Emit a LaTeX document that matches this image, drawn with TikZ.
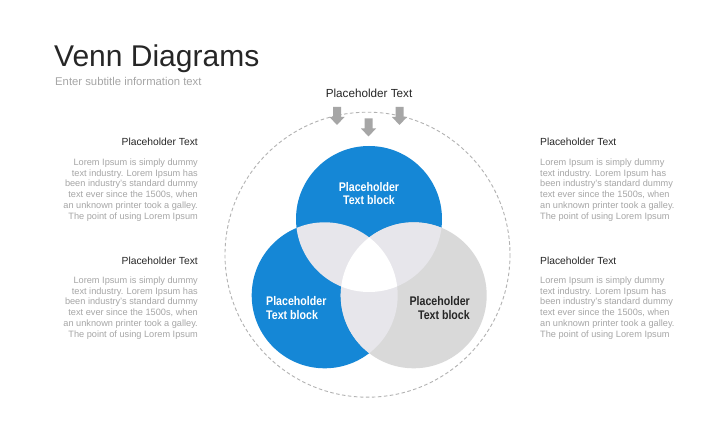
\documentclass[tikz,border=0pt]{standalone}
\usepackage{fontspec}
\setmainfont{Liberation Sans}
\newfontfamily\condfont[FakeStretch=0.85]{Liberation Sans Bold}
\definecolor{vennblue}{RGB}{21,135,214}
\definecolor{venngrey}{RGB}{217,217,217}
\definecolor{vennlight}{RGB}{231,230,235}
\definecolor{bodygrey}{RGB}{166,166,166}
\definecolor{headdark}{RGB}{38,38,38}
\definecolor{arrowgrey}{RGB}{166,166,166}
\definecolor{ringgrey}{RGB}{178,178,178}

\begin{document}
\begin{tikzpicture}[x=1pt,y=1pt,yscale=-1,
    bodytext/.style={inner sep=0pt,text=bodygrey,font=\fontsize{9.2}{10.8}\selectfont},
    headtext/.style={inner sep=0pt,text=headdark,font=\fontsize{10.3}{12}\selectfont},
    blocktext/.style={inner sep=0pt,font=\condfont\fontsize{12.5}{13.5}\selectfont},
    dropArrow/.pic={\fill[arrowgrey] (-4,0) -- (4,0) -- (4,-10) -- (7.5,-10) -- (0,-18) -- (-7.5,-10) -- (-4,-10) -- cycle;}]
    \useasboundingbox (0,0) rectangle (728,422);
    \fill[white] (0,0) rectangle (728,422);

    % Titles
    \node[anchor=base west,inner sep=0pt,text=headdark,font=\fontsize{30}{33}\selectfont] (title) at (54,67) {Venn Diagrams};
    \node[anchor=base west,inner sep=0pt,text=bodygrey,font=\fontsize{11.3}{13}\selectfont] (subtitle) at (55,86) {Enter subtitle information text};

    %Shape: Dashed ring
    \draw[ringgrey,line width=0.9pt,dash pattern=on 3.5pt off 2.5pt] (367.5,254.7) circle (142.5);

    %Shape: Circles
    \coordinate (topc) at (369,219);
    \coordinate (leftc) at (324.7,295.3);
    \coordinate (rightc) at (413.7,295.3);
    \fill[vennblue] (topc) circle (73);
    \fill[vennblue] (leftc) circle (73);
    \fill[venngrey] (rightc) circle (73);
    % overlaps
    \begin{scope}
        \clip (topc) circle (73);
        \fill[vennlight] (leftc) circle (73);
        \fill[vennlight] (rightc) circle (73);
    \end{scope}
    \begin{scope}
        \clip (leftc) circle (73);
        \fill[vennlight] (rightc) circle (73);
    \end{scope}
    \begin{scope}
        \clip (topc) circle (73);
        \clip (leftc) circle (73);
        \fill[white] (rightc) circle (73);
    \end{scope}

    % Circle texts
    \node[blocktext,text=white,align=center,anchor=north] (topblock) at (369,182) {Placeholder\\Text block};
    \node[blocktext,text=white,align=left,anchor=north west] (leftblock) at (266,296.5) {Placeholder\\Text block};
    \node[blocktext,text=headdark,align=right,anchor=north east] (rightblock) at (470,296.5) {Placeholder\\Text block};

    %Shape: Arrows
    \node[headtext,font=\fontsize{11.7}{13}\selectfont,anchor=base] (toplabel) at (369,98) {Placeholder Text};
    \pic at (337,107) {dropArrow};
    \pic at (368.5,118.5) {dropArrow};
    \pic at (399.5,107) {dropArrow};

    % Text Node: left
    \node[headtext,anchor=base east] (lhead1) at (198,146) {Placeholder Text};
    \node[bodytext,align=right,anchor=north east] (lbody1) at (198,158.5) {Lorem Ipsum is simply dummy\\text industry. Lorem Ipsum has\\been industry’s standard dummy\\text ever since the 1500s, when\\an unknown printer took a galley.\\The point of using Lorem Ipsum};
    \node[headtext,anchor=base east] (lhead2) at (198,264.5) {Placeholder Text};
    \node[bodytext,align=right,anchor=north east] (lbody2) at (198,276.5) {Lorem Ipsum is simply dummy\\text industry. Lorem Ipsum has\\been industry’s standard dummy\\text ever since the 1500s, when\\an unknown printer took a galley.\\The point of using Lorem Ipsum};

    % Text Node: right
    \node[headtext,anchor=base west] (rhead1) at (540,146) {Placeholder Text};
    \node[bodytext,align=left,anchor=north west] (rbody1) at (540,158.5) {Lorem Ipsum is simply dummy\\text industry. Lorem Ipsum has\\been industry’s standard dummy\\text ever since the 1500s, when\\an unknown printer took a galley.\\The point of using Lorem Ipsum};
    \node[headtext,anchor=base west] (rhead2) at (540,264.5) {Placeholder Text};
    \node[bodytext,align=left,anchor=north west] (rbody2) at (540,276.5) {Lorem Ipsum is simply dummy\\text industry. Lorem Ipsum has\\been industry’s standard dummy\\text ever since the 1500s, when\\an unknown printer took a galley.\\The point of using Lorem Ipsum};
\end{tikzpicture}
\end{document}
